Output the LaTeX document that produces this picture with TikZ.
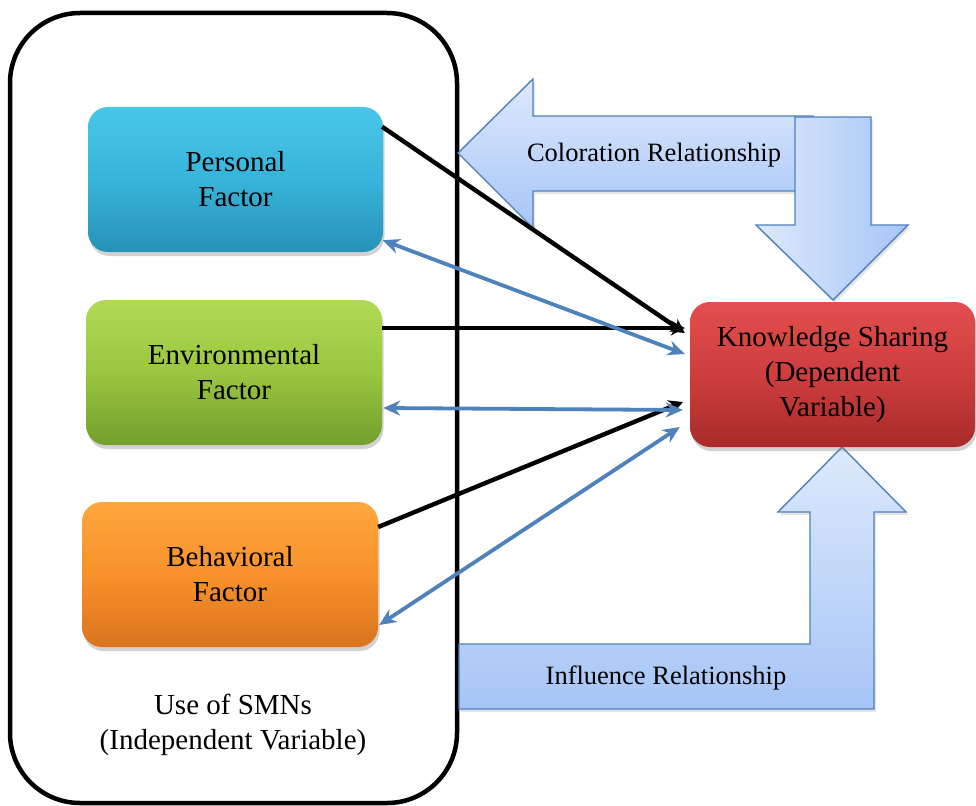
\documentclass[tikz,border=0pt]{standalone}
\usepackage{fontspec}
\setmainfont{Liberation Serif}
\usetikzlibrary{arrows.meta,shadows,calc}
\definecolor{pfTop}{RGB}{72,198,232}
\definecolor{pfMid}{RGB}{56,180,218}
\definecolor{pfBot}{RGB}{40,146,184}
\definecolor{efTop}{RGB}{176,218,84}
\definecolor{efMid}{RGB}{154,198,64}
\definecolor{efBot}{RGB}{116,158,46}
\definecolor{bfTop}{RGB}{254,166,60}
\definecolor{bfMid}{RGB}{248,146,42}
\definecolor{bfBot}{RGB}{218,116,30}
\definecolor{ksTop}{RGB}{226,78,78}
\definecolor{ksMid}{RGB}{206,62,62}
\definecolor{ksBot}{RGB}{168,42,42}
\definecolor{blLight}{RGB}{222,233,252}
\definecolor{blDark}{RGB}{166,197,246}
\definecolor{blEdge}{RGB}{79,129,189}
\begin{document}
\begin{tikzpicture}[x=1pt,y=-1pt,
  factor/.style={rounded corners=20pt, minimum width=296pt, minimum height=145pt,
    align=center, inner sep=0pt, font=\fontsize{29}{35}\selectfont,
    drop shadow={opacity=0.35,shadow xshift=1.5pt,shadow yshift=-4pt}},
  lbl/.style={inner sep=0pt, font=\fontsize{26.5}{32}\selectfont},
  plain/.style={inner sep=0pt, align=center, font=\fontsize{29}{35}\selectfont},
  blk/.style={line width=4.4pt, black, -{Stealth[length=14pt,width=15pt]}},
  blu/.style={line width=3.8pt, draw=blEdge, {Stealth[length=17pt,width=15pt]}-{Stealth[length=17pt,width=15pt]}},
  blockarrow/.style={draw=blEdge, line width=1.4pt, line join=miter,
    drop shadow={opacity=0.2,shadow xshift=2pt,shadow yshift=-3pt}}
]
\useasboundingbox (0,0) rectangle (976,805);
\fill[white] (0,0) rectangle (976,805);

% container
\draw[line width=4.5pt, rounded corners=70pt] (10,13) rectangle (457,803);
\node[plain] (use) at (233,724.5) {Use of SMNs\\(Independent Variable)};

% block arrows
\path[blockarrow, top color=blLight, bottom color=blDark]
  (458,153) -- (533,79) -- (533,116) -- (813,116) -- (813,191) -- (533,191) -- (533,228) -- cycle;
\path[blockarrow, left color=blLight, right color=blDark]
  (795,117) -- (871,117) -- (871,225) -- (908,225) -- (833,300) -- (756,225) -- (795,225) -- cycle;
\node[lbl] (colt) at (654,155) {Coloration Relationship};

\path[blockarrow, top color=blLight, bottom color=blDark]
  (459,644) -- (810,644) -- (810,512) -- (778,512) -- (842,447) -- (906,512) -- (874,512) -- (874,709) -- (459,709) -- cycle;
\node[lbl] (inft) at (666,678) {Influence Relationship};

% factor boxes
\node[factor, minimum width=295pt, top color=pfTop, bottom color=pfBot, middle color=pfMid] (pf) at (235.5,179.5) {Personal\\Factor};
\node[factor, top color=efTop, bottom color=efBot, middle color=efMid] (ef) at (234,372.5) {Environmental\\Factor};
\node[factor, top color=bfTop, bottom color=bfBot, middle color=bfMid] (bf) at (230,574.5) {Behavioral\\Factor};
\node[factor, minimum width=285pt, top color=ksTop, bottom color=ksBot, middle color=ksMid] (ks) at (832.5,374.5) {Knowledge Sharing\\(Dependent\\Variable)};

% connector end points
\coordinate (pA) at ($(pf.north east)+(-1,20)$);
\coordinate (pB) at ($(pf.south east)+(-0.5,-12)$);
\coordinate (eA) at ($(ef.east)+(0,-44.5)$);
\coordinate (eB) at ($(ef.east)+(1,35.5)$);
\coordinate (bA) at ($(bf.east)+(0,-47.5)$);
\coordinate (bB) at ($(bf.east)+(1,50.5)$);
\coordinate (k1) at ($(ks.west)+(-5,-41.5)$);
\coordinate (k2) at ($(ks.west)+(-5,-46.5)$);
\coordinate (k3) at ($(ks.west)+(-5,-20.5)$);
\coordinate (k4) at ($(ks.west)+(-7,35.5)$);
\coordinate (k5) at ($(ks.west)+(-7,27.5)$);
\coordinate (k6) at ($(ks.west)+(-10,52.5)$);

% connectors
\draw[blk] (pA) -- (k1);
\draw[blk] (eA) -- (k2);
\draw[blk] (bA) -- (k5);
\draw[blu] (pB) -- (k3);
\draw[blu] (eB) -- (k4);
\draw[blu] (bB) -- (k6);
\end{tikzpicture}
\end{document}
